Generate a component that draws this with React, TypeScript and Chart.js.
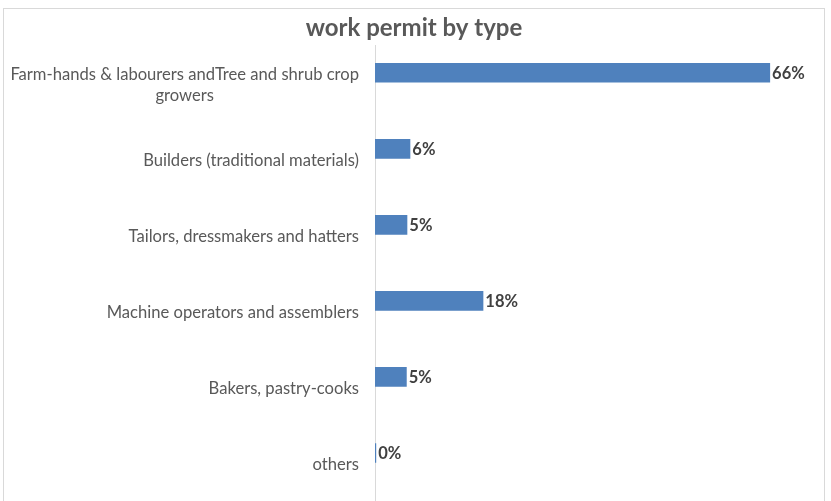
import React, { useEffect, useRef } from 'react';
import { Chart, registerables } from 'chart.js';

Chart.register(...registerables);

// chart data
const titleText = 'work permit by type';
const categories: string[][] = [
  ['Farm-hands & labourers andTree and shrub crop', 'growers'],
  ['Builders (traditional materials)'],
  ['Tailors, dressmakers and hatters'],
  ['Machine operators and assemblers'],
  ['Bakers, pastry-cooks'],
  ['others'],
];
// shares in % (labels show them rounded)
const shares = [66, 5.9, 5.4, 18.1, 5.3, 0.2];
// empty second series, keeps the bars in the upper half of each band (as in the original)
const spareSeries = [null, null, null, null, null, null];

const FONT = 'Lato, "Open Sans", sans-serif';

const categoryLabels = {
  id: 'categoryLabels',
  afterDraw(chart: any) {
    const { ctx } = chart;
    const yScale = chart.scales.y;
    ctx.save();
    ctx.font = `16.6px ${FONT}`;
    ctx.fillStyle = '#595959';
    ctx.textAlign = 'center';
    ctx.textBaseline = 'middle';
    categories.forEach((lines, i) => {
      const cy = yScale.getPixelForValue(i) + 1;
      const block = Math.max(...lines.map((l) => ctx.measureText(l).width));
      const cx = yScale.right - 16 - block / 2;
      lines.forEach((l, j) => {
        ctx.fillText(l, cx, cy + (j - (lines.length - 1) / 2) * 21);
      });
    });
    ctx.restore();
  },
};

const valueLabels = {
  id: 'valueLabels',
  afterDatasetsDraw(chart: any) {
    const { ctx } = chart;
    const meta = chart.getDatasetMeta(0);
    ctx.save();
    ctx.font = `bold 16.5px ${FONT}`;
    ctx.fillStyle = '#404040';
    ctx.textAlign = 'left';
    ctx.textBaseline = 'middle';
    meta.data.forEach((bar: any, i: number) => {
      ctx.fillText(`${Math.round(shares[i])}%`, bar.x + 2, bar.y + 1);
    });
    ctx.restore();
  },
};

function PermitChart() {
  const canvasRef = useRef<HTMLCanvasElement>(null);
  useEffect(() => {
    if (!canvasRef.current) return;
    const chart = new Chart(canvasRef.current, {
      type: 'bar',
      data: {
        labels: categories,
        datasets: [
          {
            data: shares,
            backgroundColor: '#4F81BD',
            borderWidth: 0,
            categoryPercentage: 0.58,
            barPercentage: 0.89,
          },
          {
            data: spareSeries,
            backgroundColor: '#C0504D',
            categoryPercentage: 0.58,
            barPercentage: 0.89,
          },
        ],
      },
      options: {
        indexAxis: 'y',
        animation: false,
        responsive: false,
        devicePixelRatio: 1,
        layout: { padding: { top: 0, right: 0, bottom: 35, left: 0 } },
        plugins: {
          legend: { display: false },
          tooltip: { enabled: false },
          title: {
            display: true,
            text: titleText,
            color: '#595959',
            font: { family: FONT, size: 24, weight: 'bold' },
            padding: { top: 5, bottom: 3 },
          },
        },
        scales: {
          x: { display: false, min: 0, max: 75 },
          y: {
            grid: { display: false },
            border: { display: true, color: '#d9d9d9' },
            ticks: { display: false },
            afterFit(scale: any) {
              scale.width = 371;
            },
          },
        },
      },
      plugins: [categoryLabels, valueLabels],
    });
    return () => chart.destroy();
  }, []);
  return <canvas ref={canvasRef} width={820} height={528} style={{ display: 'block' }} />;
}

export default function App() {
  return (
    <div style={{ position: 'fixed', left: 0, top: 0, width: 831, height: 501, overflow: 'hidden', background: '#fff' }}>
      <div
        style={{
          position: 'absolute',
          left: 3,
          top: 8,
          width: 822,
          height: 530,
          border: '1px solid #d9d9d9',
          boxSizing: 'border-box',
        }}
      >
        <PermitChart />
      </div>
    </div>
  );
}
